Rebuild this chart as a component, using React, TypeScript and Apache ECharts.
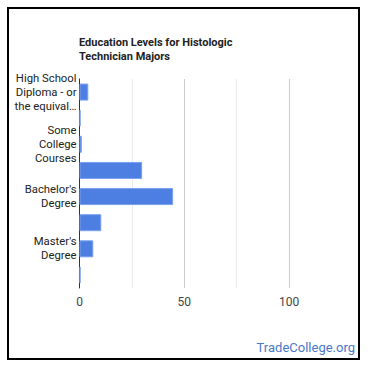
import React, { useEffect, useRef } from "react";
import * as echarts from "echarts";

const categories = [
  "High School Diploma - or the equivalent",
  "Post-Secondary Certificate",
  "Some College Courses",
  "Associate's Degree",
  "Bachelor's Degree",
  "Post-Baccalaureate Certificate",
  "Master's Degree",
  "Post-Master's Certificate",
];
const axisLabels = [
  "High School\nDiploma - or\nthe equival…",
  "",
  "Some\nCollege\nCourses",
  "",
  "Bachelor's\nDegree",
  "",
  "Master's\nDegree",
  "",
];
const values = [4.2, 0.5, 1.1, 29.9, 44.7, 10.4, 6.6, 0.5];
const xTicks = [0, 50, 100];

export default function App() {
  const ref = useRef<HTMLDivElement>(null);
  useEffect(() => {
    document.body.style.margin = "0";
    const chart = echarts.init(ref.current!, null, { renderer: "svg" });
    chart.setOption({
      animation: false,
      backgroundColor: "#fff",
      title: {
        text: "Education Levels for Histologic\nTechnician Majors",
        left: 79,
        top: 35,
        padding: 0,
        textStyle: {
          fontFamily: "Roboto",
          fontSize: 11,
          fontWeight: "bold",
          color: "#222",
          lineHeight: 14,
        },
      },
      grid: { left: 79.5, right: 81, top: 79, bottom: 82, containLabel: false },
      xAxis: {
        type: "value",
        min: 0,
        max: 100,
        interval: 25,
        axisLine: { show: false },
        axisTick: { show: false },
        axisLabel: {
          fontFamily: "Roboto",
          fontSize: 12,
          color: "#444",
          margin: 8,
          formatter: (v: number) => (xTicks.includes(v) ? String(v) : ""),
        },
        splitLine: {
          show: true,
          lineStyle: { color: ["#333", "#ebebeb", "#cccccc", "#ebebeb", "#cccccc"], width: 1 },
        },
      },
      yAxis: {
        type: "category",
        data: categories,
        inverse: true,
        axisLine: { show: true, lineStyle: { color: "#333", width: 1 } },
        axisTick: { show: false },
        axisLabel: {
          interval: 0,
          fontFamily: "Roboto",
          fontSize: 11.3,
          color: "#222",
          lineHeight: 14,
          margin: 3,
          formatter: (_v: string, i: number) => axisLabels[i],
        },
      },
      series: [
        {
          type: "bar",
          data: values,
          barWidth: 17,
          itemStyle: { color: "#4d7fe2", borderColor: "#7aa0ee", borderWidth: 1 },
        },
      ],
      graphic: [
        {
          type: "rect",
          shape: { x: 8, y: 8, width: 351, height: 351 },
          style: { fill: "none", stroke: "#000", lineWidth: 2 },
          silent: true,
        },
        {
          type: "text",
          right: 15,
          top: 341,
          style: {
            text: "TradeCollege.org",
            fontFamily: "Roboto",
            fontSize: 13,
            fill: "#4a78c8",
          },
        },
      ],
    });
    return () => chart.dispose();
  }, []);
  return <div ref={ref} style={{ width: 370, height: 370 }} />;
}
